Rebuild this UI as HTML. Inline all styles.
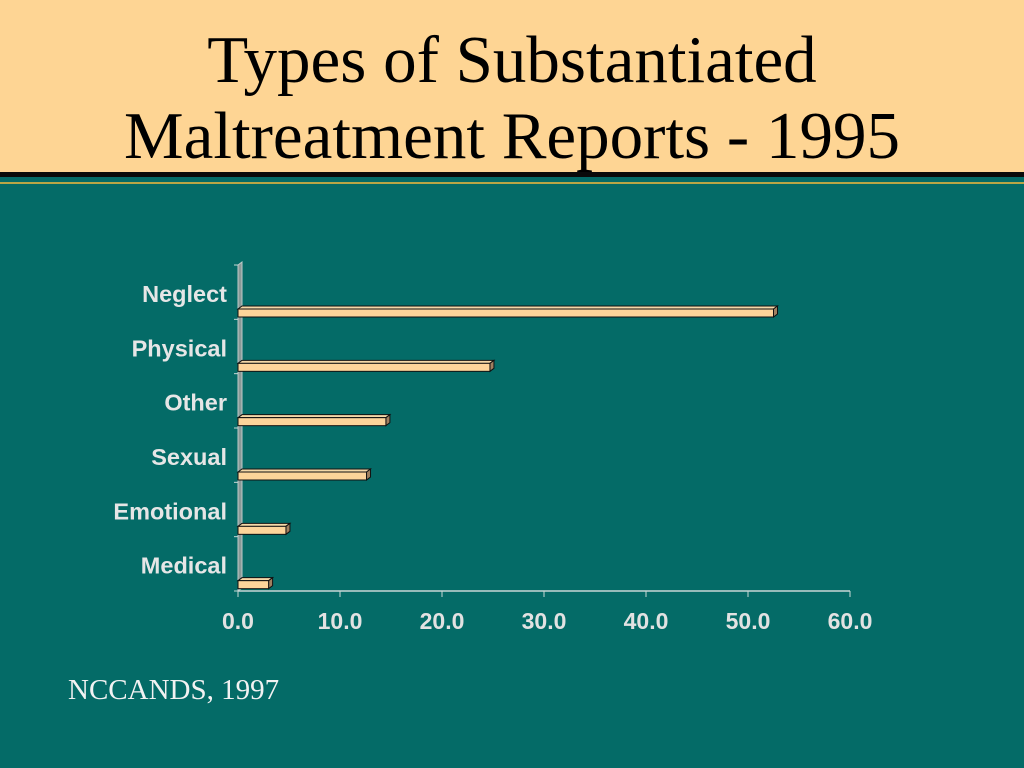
<!DOCTYPE html>
<html><head><meta charset="utf-8"><style>
body{margin:0;width:1024px;height:768px;overflow:hidden;background:#046b67;font-family:"Liberation Sans",sans-serif}
#hdr{position:absolute;left:0;top:0;width:1024px;height:172px;background:#fed594}
#title{position:absolute;left:0;top:22px;width:1024px;text-align:center;font-family:"Liberation Serif",serif;font-size:67px;line-height:76px;color:#000}
#bl{position:absolute;left:0;top:172px;width:1024px;height:5px;background:#0a0a0a}
#gl{position:absolute;left:0;top:182px;width:1024px;height:2px;background:#b9a646}
#src{position:absolute;left:68px;top:674px;font-family:"Liberation Serif",serif;font-size:29px;color:#f2f2f2}
</style></head><body>
<div id="hdr"></div>
<div id="title">Types of Substantiated<br>Maltreatment Reports - 1995</div>
<div id="bl"></div>
<div id="gl"></div>
<svg id="chart" width="1024" height="768" style="position:absolute;left:0;top:0"></svg>
<div id="src">NCCANDS, 1997</div>
<script>
const categories=["Neglect","Physical","Other","Sexual","Emotional","Medical"];
const values=[52.5,24.7,14.5,12.6,4.7,3.0];
const ticks=["0.0","10.0","20.0","30.0","40.0","50.0","60.0"];
const tickVals=[0,10,20,30,40,50,60];
const svg=document.getElementById('chart');const NS='http://www.w3.org/2000/svg';
const x0=238,x1=850,yT=265,yB=591,xMax=60;
const xs=v=>x0+(v/xMax)*(x1-x0);
const band=(yB-yT)/categories.length;
function mk(t,a,p){const e=document.createElementNS(NS,t);for(const k in a)e.setAttribute(k,a[k]);(p||svg).appendChild(e);return e;}
let w=mk('path',{d:`M${x0} ${yB} L${x0} ${yT} L${x0+4} ${yT-3} L${x0+4} ${yB-3} Z`,fill:'#8a9a98',stroke:'#bfcac8','stroke-width':1});

let xa=mk('line',{x1:x0,y1:yB,x2:x1,y2:yB,stroke:'#c8d8d6','stroke-width':1.5});

tickVals.forEach((v,i)=>{
  let t=mk('line',{x1:xs(v),y1:yB,x2:xs(v),y2:yB+6,stroke:'#c8d8d6'});
  
  let l=mk('text',{x:xs(v),y:629,'text-anchor':'middle','font-size':23,'font-weight':'bold',fill:'#e2e2e2'});
  l.textContent=ticks[i];
});
for(let i=0;i<=categories.length;i++){
  let t=mk('line',{x1:x0-4,y1:yT+band*i,x2:x0,y2:yT+band*i,stroke:'#c8d8d6'});
  
}
categories.forEach((c,i)=>{
  const top=yT+band*i;
  let l=mk('text',{x:227,y:top+37,'text-anchor':'end','font-size':23.5,'font-weight':'bold',fill:'#e6e6e6'});
  l.textContent=c;
  const by=top+44,bh=8,xe=xs(values[i]);
  const g=mk('g',{});
  mk('path',{d:`M${x0} ${by} L${x0+4} ${by-3} L${xe+4} ${by-3} L${xe} ${by} Z`,fill:'#f5d8a8',stroke:'#111','stroke-width':1},g);
  mk('path',{d:`M${xe} ${by} L${xe+4} ${by-3} L${xe+4} ${by+bh-3} L${xe} ${by+bh} Z`,fill:'#a08060',stroke:'#111','stroke-width':1},g);
  mk('rect',{x:x0,y:by,width:xe-x0,height:bh,fill:'#fdd49a',stroke:'#111','stroke-width':1},g);
});
</script>
</body></html>
